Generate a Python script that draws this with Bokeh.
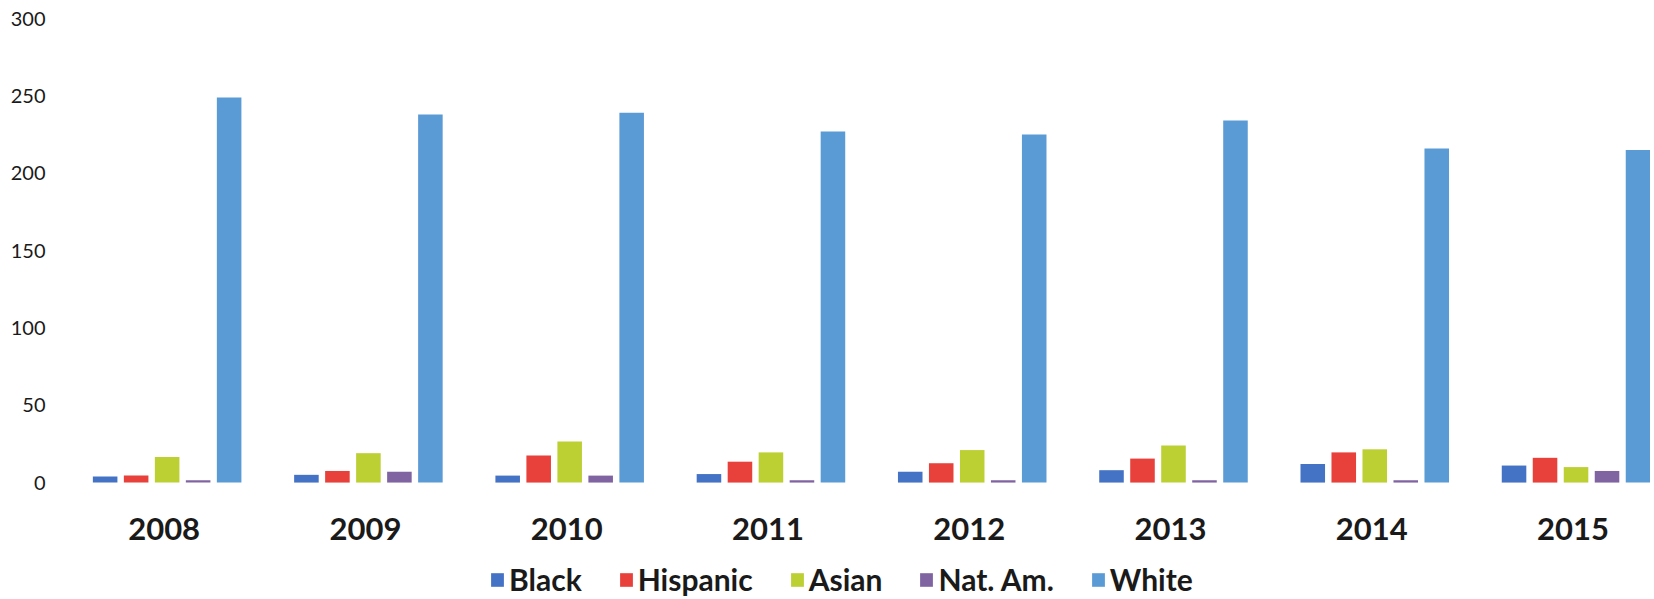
from bokeh.plotting import figure
from bokeh.models import (ColumnDataSource, Range1d, FixedTicker, Legend, LegendItem)
from bokeh.core.properties import value
from bokeh.transform import dodge
from bokeh.embed import file_html
from bokeh.resources import INLINE

years = ["2008", "2009", "2010", "2011", "2012", "2013", "2014", "2015"]
black = [4, 5, 4.5, 5.5, 7, 8, 12, 11]
hispanic = [4.5, 7.5, 17.5, 13.5, 12.5, 15.5, 19.5, 16]
asian = [16.5, 19, 26.5, 19.5, 21, 24, 21.5, 10]
nat_am = [1.5, 7, 4.5, 1.5, 1.5, 1.5, 1.5, 7.5]
white = [249, 238, 239, 227, 225, 234, 216, 215]
y_ticks = [0, 50, 100, 150, 200, 250, 300]

series_names = ["Black", "Hispanic", "Asian", "Nat. Am.", "White"]
series_keys = ["black", "hispanic", "asian", "nat_am", "white"]
colors = ["#4472C4", "#E8403A", "#BCCF33", "#8064A2", "#5B9BD5"]

centers = [i + 0.5 for i in range(len(years))]
source = ColumnDataSource(dict(x=centers, black=black, hispanic=hispanic,
                               asian=asian, nat_am=nat_am, white=white,
                               year=years, base=[0] * len(years)))

# frame extends below the zero line so that year labels and legend sit inside it
p = figure(frame_width=1584, frame_height=579, output_backend="svg", toolbar_location=None,
           x_range=Range1d(0, 7.87), y_range=Range1d(-74.3, 300),
           x_axis_location=None,
           min_border_left=66, min_border_right=0, min_border_top=18,
           min_border_bottom=0)
p.outline_line_color = None
p.xgrid.visible = False
p.ygrid.visible = False
p.background_fill_color = "white"

pitch = 0.154
bw = 0.122
renderers = []
for k, (key, col) in enumerate(zip(series_keys, colors)):
    r = p.vbar(x=dodge("x", (k - 2) * pitch, range=p.x_range), top=key, bottom=0,
               width=bw, source=source, fill_color=col, line_color=None)
    renderers.append(r)

# category (year) labels under each group
p.text(x="x", y="base", text="year", source=source, y_offset=46, x_offset=-3,
       text_align="center", text_baseline="middle",
       text_font=value("Lato"), text_font_style="bold", text_font_size="31px",
       text_color="#1a1a1a")

# y axis
p.yaxis.ticker = FixedTicker(ticks=y_ticks)
p.yaxis.axis_line_color = None
p.yaxis.major_tick_line_color = None
p.yaxis.minor_tick_line_color = None
p.yaxis.major_tick_out = 0
p.yaxis.major_tick_in = 0
p.yaxis.major_label_standoff = 21
p.yaxis.major_label_text_font = "Lato"
p.yaxis.major_label_text_font_size = "20px"
p.yaxis.major_label_text_color = "#1a1a1a"

legend = Legend(items=[LegendItem(label=n, renderers=[r]) for n, r in zip(series_names, renderers)],
                orientation="horizontal", location=(423, 0))
legend.glyph_width = 16
legend.glyph_height = 17
legend.label_standoff = 4
legend.spacing = 36
legend.padding = 0
legend.margin = 0
legend.border_line_color = None
legend.background_fill_alpha = 0
legend.label_text_font = "Lato"
legend.label_text_font_style = "bold"
legend.label_text_font_size = "30px"
legend.label_text_color = "#1a1a1a"
p.add_layout(legend, "center")

open("out.html", "w").write(file_html(p, INLINE))
